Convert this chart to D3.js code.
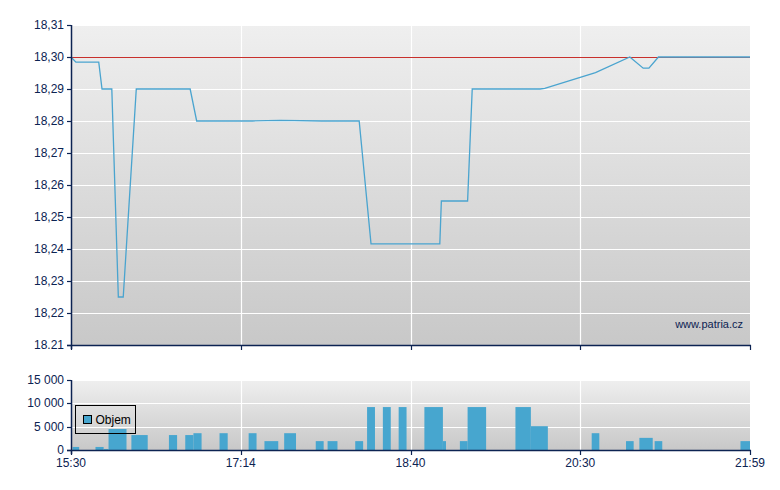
<!DOCTYPE html>
<html>
<head>
<meta charset="utf-8">
<script src="https://cdn.jsdelivr.net/npm/d3@7"></script>
<style>
  body { margin: 0; background: #ffffff; }
  svg text { font-family: "Liberation Sans", Arial, sans-serif; font-size: 12px; fill: #0c2352; }
</style>
</head>
<body>
<div id="chart"></div>
<script>
// Price data (time, price)
const priceTimes = ["15:30", "15:33", "15:47", "15:49", "15:55", "15:59", "16:02", "16:10", "16:43", "16:47",
  "17:20", "17:34", "17:55", "18:14", "18:20", "18:59", "19:00", "19:17", "19:20", "20:04", "20:07",
  "20:38", "20:56", "21:03", "21:06", "21:11", "21:59"];
const priceValues = [18.300, 18.2984, 18.2984, 18.290, 18.290, 18.225, 18.225, 18.290, 18.290, 18.280,
  18.280, 18.2802, 18.280, 18.280, 18.2416, 18.2416, 18.255, 18.255, 18.290, 18.290, 18.2902,
  18.2951, 18.300, 18.2965, 18.2965, 18.300, 18.300];
const refPrice = 18.30;

// Volume data (start, end, volume)
const volStart = ["15:31", "15:45", "15:50", "15:53", "16:07", "16:30", "16:40", "16:45", "17:01", "17:18",
  "17:26", "17:36", "17:52", "17:58", "18:12", "18:18", "18:26", "18:34", "18:49", "19:01",
  "19:12", "19:17", "19:48", "19:58", "20:36", "20:54", "21:01", "21:09", "21:54"];
const volEnd = ["15:35", "15:50", "15:53", "16:04", "16:17", "16:35", "16:45", "16:50", "17:06", "17:22",
  "17:33", "17:42", "17:56", "18:03", "18:16", "18:22", "18:30", "18:38", "19:01", "19:03",
  "19:17", "19:29", "19:58", "20:09", "20:40", "20:58", "21:08", "21:13", "21:59"];
const volValues = [650, 650, 200, 4500, 3200, 3200, 3200, 3600, 3600, 3600,
  1900, 3600, 1900, 1900, 1900, 9200, 9200, 9200, 9200, 1900,
  1900, 9200, 9200, 5100, 3600, 1900, 2600, 1900, 1900];

// Axis ticks
const timeTicks = ["15:30", "17:14", "18:40", "20:30", "21:59"];
const priceTicks = [18.21, 18.22, 18.23, 18.24, 18.25, 18.26, 18.27, 18.28, 18.29, 18.30, 18.31];
const priceTickLabels = ["18.21", "18,22", "18,23", "18,24", "18,25", "18,26", "18,27", "18,28", "18,29", "18,30", "18,31"];
const volTicks = [0, 5000, 10000, 15000];
const volTickLabels = ["0", "5 000", "10 000", "15 000"];

const width = 780;
const height = 490;
const left = 71, right = 750;
const priceTop = 25, priceBottom = 345;
const volTop = 380, volBottom = 450;
const axisColor = "#0c2352";

function toMin(s) {
  const parts = s.split(":").map(Number);
  return parts[0] * 60 + parts[1];
}

const svg = d3.select("#chart").append("svg")
  .attr("width", width)
  .attr("height", height);

// Background gradient
const defs = svg.append("defs");
const grad = defs.append("linearGradient")
  .attr("id", "bg")
  .attr("x1", 0).attr("y1", 0).attr("x2", 0).attr("y2", 1);
grad.append("stop").attr("offset", "0%").attr("stop-color", "#efefef");
grad.append("stop").attr("offset", "100%").attr("stop-color", "#c8c8c8");

// X scale: ticks evenly spaced, times between them piecewise linear
const x = d3.scaleLinear()
  .domain(timeTicks.map(toMin))
  .range(timeTicks.map((d, i) => left + i * (right - left) / (timeTicks.length - 1)));

const y = d3.scaleLinear().domain([18.21, 18.31]).range([priceBottom, priceTop]);
const yVol = d3.scaleLinear().domain([0, 15000]).range([volBottom, volTop]);

function drawPanel(yScale, ticks, labels, top, bottom) {
  const g = svg.append("g");
  g.append("rect")
    .attr("x", left)
    .attr("y", top)
    .attr("width", right - left)
    .attr("height", bottom - top)
    .attr("fill", "url(#bg)");

  // horizontal grid
  g.selectAll(".hgrid")
    .data(ticks)
    .enter()
    .append("line")
    .attr("x1", left).attr("x2", right)
    .attr("y1", d => Math.round(yScale(d)) + 0.5)
    .attr("y2", d => Math.round(yScale(d)) + 0.5)
    .attr("stroke", "#ffffff")
    .attr("stroke-width", 1.2);

  // vertical grid
  g.selectAll(".vgrid")
    .data(timeTicks.slice(1, -1))
    .enter()
    .append("line")
    .attr("x1", d => Math.round(x(toMin(d))) + 0.5)
    .attr("x2", d => Math.round(x(toMin(d))) + 0.5)
    .attr("y1", top).attr("y2", bottom)
    .attr("stroke", "#ffffff")
    .attr("stroke-width", 1.2);
  return g;
}

function drawAxes(yScale, ticks, labels, top, bottom, showTimeLabels) {
  const g = svg.append("g");
  g.append("line")
    .attr("x1", left + 0.5).attr("x2", left + 0.5)
    .attr("y1", top).attr("y2", bottom + 4)
    .attr("stroke", axisColor).attr("stroke-width", 1.5);
  g.append("line")
    .attr("x1", left - 4).attr("x2", right + 1)
    .attr("y1", bottom + 0.5).attr("y2", bottom + 0.5)
    .attr("stroke", axisColor).attr("stroke-width", 1.5);

  g.selectAll(".ytick")
    .data(ticks)
    .enter()
    .append("line")
    .attr("x1", left - 4).attr("x2", left)
    .attr("y1", d => Math.round(yScale(d)) + 0.5)
    .attr("y2", d => Math.round(yScale(d)) + 0.5)
    .attr("stroke", axisColor).attr("stroke-width", 1.2);

  g.selectAll(".ylabel")
    .data(ticks)
    .enter()
    .append("text")
    .attr("x", left - 7)
    .attr("y", d => yScale(d) + 4)
    .attr("text-anchor", "end")
    .text((d, i) => labels[i]);

  g.selectAll(".xtick")
    .data(timeTicks)
    .enter()
    .append("line")
    .attr("x1", d => Math.round(x(toMin(d))) + 0.5)
    .attr("x2", d => Math.round(x(toMin(d))) + 0.5)
    .attr("y1", bottom).attr("y2", bottom + 5)
    .attr("stroke", axisColor).attr("stroke-width", 1.2);

  if (showTimeLabels) {
    g.selectAll(".xlabel")
      .data(timeTicks)
      .enter()
      .append("text")
      .attr("x", d => x(toMin(d)))
      .attr("y", bottom + 17)
      .attr("text-anchor", "middle")
      .text(d => d);
  }
}

// Price panel
drawPanel(y, priceTicks, priceTickLabels, priceTop, priceBottom);

svg.append("line")
  .attr("x1", left).attr("x2", right)
  .attr("y1", Math.round(y(refPrice)) + 0.5)
  .attr("y2", Math.round(y(refPrice)) + 0.5)
  .attr("stroke", "#c8302c")
  .attr("stroke-width", 1.2);

const priceData = priceTimes.map((t, i) => ({ t: toMin(t), v: priceValues[i] }));
const line = d3.line()
  .x(d => x(d.t))
  .y(d => y(d.v));

svg.append("path")
  .datum(priceData)
  .attr("d", line)
  .attr("fill", "none")
  .attr("stroke", "#4aa4cf")
  .attr("stroke-width", 1.3);

svg.append("text")
  .attr("x", right - 7)
  .attr("y", 328)
  .attr("text-anchor", "end")
  .style("font-size", "11px")
  .text("www.patria.cz");

drawAxes(y, priceTicks, priceTickLabels, priceTop, priceBottom, false);

// Volume panel
drawPanel(yVol, volTicks, volTickLabels, volTop, volBottom);

const volData = volStart.map((s, i) => ({ s: toMin(s), e: toMin(volEnd[i]), v: volValues[i] }));
svg.selectAll(".bar")
  .data(volData)
  .enter()
  .append("rect")
  .attr("class", "bar")
  .attr("x", d => x(d.s))
  .attr("width", d => x(d.e) - x(d.s))
  .attr("y", d => yVol(d.v))
  .attr("height", d => volBottom - yVol(d.v))
  .attr("fill", "#47a6cf");

drawAxes(yVol, volTicks, volTickLabels, volTop, volBottom, true);

// Legend
const legend = svg.append("g").attr("transform", "translate(75.5,405.5)");
legend.append("rect")
  .attr("width", 60).attr("height", 28)
  .attr("fill", "none")
  .attr("stroke", "#000000");
legend.append("rect")
  .attr("x", 8).attr("y", 10)
  .attr("width", 8).attr("height", 8)
  .attr("fill", "#47a6cf")
  .attr("stroke", "#000000");
legend.append("text")
  .attr("x", 20).attr("y", 18.5)
  .style("fill", "#000000")
  .text("Objem");
</script>
</body>
</html>
